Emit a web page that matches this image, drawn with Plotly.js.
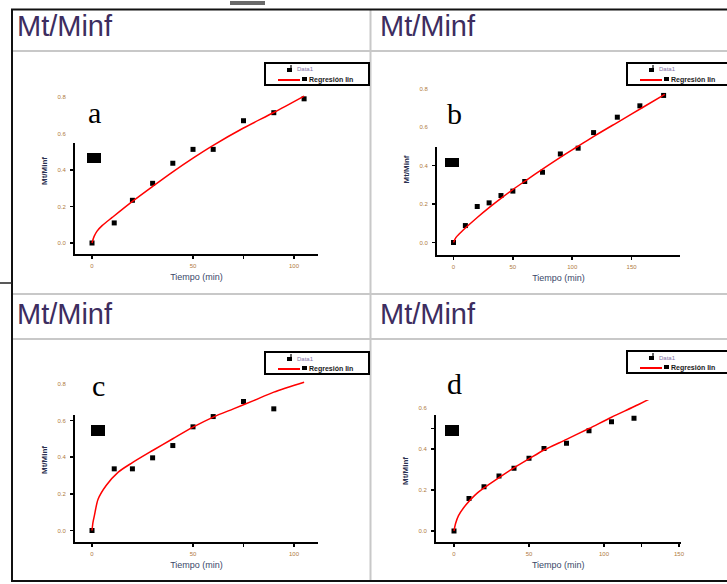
<!DOCTYPE html>
<html>
<head>
<meta charset="utf-8">
<script src="https://cdn.plot.ly/plotly-3.0.1.min.js"></script>
<style>html,body{margin:0;padding:0;background:#fff;}#chart{width:727px;height:584px;}</style>
</head>
<body>
<div id="chart"></div>
<script>
// ---- data ----
const panelLetters = ['a', 'b', 'c', 'd'];
const headerText = 'Mt/Minf';
const xTitle = 'Tiempo (min)';
const yTitle = 'Mt/Minf';
const legendData = 'Data1';
const legendFit = 'Regresión lin';

// panel a
const tA = [0, 11, 20, 30, 40, 50, 60, 75, 90, 105];
const vA = [0, 0.11, 0.234, 0.327, 0.437, 0.513, 0.513, 0.67, 0.714, 0.79];
const fitTA = [0, 1, 2.5, 5, 10, 20, 30, 40, 50, 60, 75, 90, 105];
const fitVA = [0, 0.035, 0.065, 0.095, 0.14, 0.228, 0.31, 0.39, 0.465, 0.535, 0.63, 0.715, 0.805];

// panel b
const tB = [0, 10, 20, 30, 40, 50, 60, 75, 90, 105, 118, 138, 157, 177];
const vB = [0, 0.088, 0.187, 0.206, 0.244, 0.267, 0.317, 0.365, 0.46, 0.49, 0.571, 0.651, 0.71, 0.764];
const fitTB = [0, 2, 5, 10, 20, 30, 40, 50, 60, 75, 90, 105, 120, 140, 160, 178];
const fitVB = [0, 0.025, 0.045, 0.075, 0.13, 0.181, 0.229, 0.275, 0.318, 0.381, 0.442, 0.5, 0.558, 0.631, 0.704, 0.77];

// panel c
const tC = [0, 11, 20, 30, 40, 50, 60, 75, 90];
const vC = [0, 0.336, 0.336, 0.396, 0.463, 0.565, 0.621, 0.703, 0.663];
const fitTC = [0, 0.5, 1.2, 3, 7, 13, 20, 30, 40, 50, 60, 70, 80, 90, 105];
const fitVC = [0, 0.045, 0.082, 0.17, 0.245, 0.318, 0.37, 0.436, 0.5, 0.563, 0.618, 0.663, 0.708, 0.754, 0.808];

// panel d
const tD = [0, 10, 20, 30, 40, 50, 60, 75, 90, 105, 120];
const vD = [0, 0.159, 0.216, 0.268, 0.306, 0.355, 0.403, 0.428, 0.489, 0.533, 0.55];
const fitTD = [0, 1, 3, 8, 14, 20, 30, 40, 50, 60, 75, 90, 105, 123, 140];
const fitVD = [0, 0.035, 0.075, 0.128, 0.175, 0.21, 0.26, 0.308, 0.352, 0.395, 0.447, 0.5, 0.555, 0.617, 0.68];

// tick labels
const xTickValsAC = [0, 50, 75, 100];
const xTickTextAC = ['0', '50', '', '100'];
const xTickValsB = [0, 50, 100, 150];
const xTickTextB = ['0', '50', '100', '150'];
const xTickValsD = [0, 50, 100, 125, 150];
const xTickTextD = ['0', '50', '100', '', '150'];
const yTickValsABC = [0, 0.2, 0.4, 0.6, 0.8];
const yTickTextABC = ['0.0', '0.2', '0.4', '0.6', '0.8'];
const yTickValsD = [0, 0.2, 0.4, 0.5, 0.6];
const yTickTextD = ['0.0', '0.2', '0.4', '', '0.6'];

// ---- layout helpers ----
const W = 727, H = 584;
const px = x => x / W;
const py = y => 1 - y / H;

const tickFont = {family: 'Liberation Sans, Arial, sans-serif', size: 6, color: '#b07a40'};
const xTitleFont = {family: 'Liberation Sans, Arial, sans-serif', size: 9, color: '#3a4868'};
const yTitleFont = {family: 'Liberation Sans, Arial, sans-serif', size: 8, color: '#2a3050', weight: 'bold'};

function xAxis(l, r, range, vals, text, anchor) {
  return {
    domain: [px(l), px(r)], range: range, anchor: anchor,
    tickmode: 'array', tickvals: vals, ticktext: text,
    showline: true, linecolor: '#000', linewidth: 2,
    ticks: 'outside', ticklen: 3, tickwidth: 1.5, tickcolor: '#000',
    showgrid: false, zeroline: false, tickfont: tickFont, ticklabelstandoff: 2,
    title: {text: xTitle, font: xTitleFont, standoff: 5}, fixedrange: true
  };
}
function yAxis(b, t, range, vals, text, anchor) {
  return {
    domain: [py(b), py(t)], range: range, anchor: anchor,
    tickmode: 'array', tickvals: vals, ticktext: text,
    showline: true, linecolor: '#000', linewidth: 2,
    ticks: 'outside', ticklen: 3, tickwidth: 1.5, tickcolor: '#000',
    showgrid: false, zeroline: false, tickfont: tickFont, ticklabelstandoff: 3,
    title: {text: yTitle, font: yTitleFont, standoff: 9}, fixedrange: true
  };
}

function pointTrace(t, v, xa, ya) {
  return {x: t, y: v, xaxis: xa, yaxis: ya, type: 'scatter', mode: 'markers', name: legendData,
    marker: {symbol: 'square', size: 5, color: '#000'}, showlegend: false, hoverinfo: 'skip'};
}
function fitTrace(t, v, xa, ya) {
  return {x: t, y: v, xaxis: xa, yaxis: ya, type: 'scatter', mode: 'lines', name: legendFit,
    line: {color: '#ff0000', width: 1.5, shape: 'spline', smoothing: 0.8}, showlegend: false, hoverinfo: 'skip'};
}

const data = [
  pointTrace(tA, vA, 'x', 'y'), fitTrace(fitTA, fitVA, 'x', 'y'),
  pointTrace(tB, vB, 'x2', 'y2'), fitTrace(fitTB, fitVB, 'x2', 'y2'),
  pointTrace(tC, vC, 'x3', 'y3'), fitTrace(fitTC, fitVC, 'x3', 'y3'),
  pointTrace(tD, vD, 'x4', 'y4'), fitTrace(fitTD, fitVD, 'x4', 'y4')
];

// ---- shapes: table frame, masks, legends ----
const shapes = [];
function line(x0, y0, x1, y1, color, width) {
  shapes.push({type: 'line', xref: 'paper', yref: 'paper', x0: px(x0), y0: py(y0), x1: px(x1), y1: py(y1),
    line: {color: color, width: width}, layer: 'above'});
}
function rect(x0, y0, x1, y1, fill, lineColor, lineWidth) {
  shapes.push({type: 'rect', xref: 'paper', yref: 'paper', x0: px(x0), y0: py(y0), x1: px(x1), y1: py(y1),
    fillcolor: fill, line: {color: lineColor || fill, width: lineWidth || 0}, layer: 'above'});
}

// white masks over upper part of y axes
rect(69, 74, 125, 143, '#ffffff');
rect(431, 72, 490, 147, '#ffffff');
rect(69, 372, 125, 415, '#ffffff');
rect(430, 396, 490, 415, '#ffffff');

// black blocks
rect(87, 153, 101, 163, '#000000');
rect(445, 158, 459, 167, '#000000');
rect(91, 425, 105, 436, '#000000');
rect(445, 425, 459, 436, '#000000');

// table grid
line(12, 51, 727, 51, '#c8c8c8', 2);
line(12, 294, 727, 294, '#c8c8c8', 2);
line(12, 339, 727, 339, '#c8c8c8', 2);
line(370.5, 10, 370.5, 581, '#c8c8c8', 2);
line(11, 9.5, 727, 9.5, '#111111', 2);
line(12, 9, 12, 582, '#111111', 2);
line(11, 581, 727, 581, '#111111', 2);
line(0, 283, 12, 283, '#222222', 1.5);
rect(230, 1, 265, 5, '#6a6a6a');

// legends
const annotations = [];
function legendBox(L, T) {
  rect(L, T, L + 104, T + 22, 'rgba(255,255,255,1)', '#000000', 2);
  rect(L + 22, T + 5, L + 27, T + 9, '#000000');
  line(L + 26, T + 2, L + 26, T + 6, '#000000', 1.2);
  line(L + 13, T + 17, L + 35, T + 17, '#ff0000', 2);
  rect(L + 37, T + 14, L + 42, T + 18, '#000000');
  annotations.push({xref: 'paper', yref: 'paper', x: px(L + 30), y: py(T + 6.5), xanchor: 'left', yanchor: 'middle',
    text: legendData, showarrow: false, font: {family: 'Liberation Sans, Arial, sans-serif', size: 6, color: '#8272a8'}});
  annotations.push({xref: 'paper', yref: 'paper', x: px(L + 42), y: py(T + 17), xanchor: 'left', yanchor: 'middle',
    text: legendFit, showarrow: false, font: {family: 'Liberation Sans, Arial, sans-serif', size: 7, color: '#1a1a1a', weight: 'bold'}});
}
legendBox(265, 63);
legendBox(627, 63);
legendBox(265, 352);
legendBox(627, 351);

// headers
[[15, 26], [378, 26], [15, 314], [378, 314]].forEach(p => {
  annotations.push({xref: 'paper', yref: 'paper', x: px(p[0]), y: py(p[1]), xanchor: 'left', yanchor: 'middle',
    text: headerText, showarrow: false, font: {family: 'Liberation Sans, Arial, sans-serif', size: 29, color: '#3d2d60'}});
});
// panel letters
[[94, 112], [454, 113], [98, 385], [454, 383]].forEach((p, i) => {
  annotations.push({xref: 'paper', yref: 'paper', x: px(p[0]), y: py(p[1]), xanchor: 'center', yanchor: 'middle',
    text: panelLetters[i], showarrow: false, font: {family: 'Liberation Serif, Times New Roman, serif', size: 30, color: '#000'}});
});

const layout = {
  width: W, height: H, autosize: false,
  margin: {l: 0, r: 0, t: 0, b: 0, pad: 0},
  paper_bgcolor: '#ffffff', plot_bgcolor: 'rgba(0,0,0,0)',
  showlegend: false,
  xaxis: xAxis(75, 318, [-8.42, 111.88], xTickValsAC, xTickTextAC, 'y'),
  yaxis: yAxis(254, 88, [-0.0603, 0.8493], yTickValsABC, yTickTextABC, 'x'),
  xaxis2: xAxis(437, 680, [-13.9, 190.8], xTickValsB, xTickTextB, 'y2'),
  yaxis2: yAxis(255, 84, [-0.0649, 0.8234], yTickValsABC, yTickTextABC, 'x2'),
  xaxis3: xAxis(75, 318, [-8.42, 111.88], xTickValsAC, xTickTextAC, 'y3'),
  yaxis3: yAxis(542, 378, [-0.0627, 0.8311], yTickValsABC, yTickTextABC, 'x3'),
  xaxis4: xAxis(436, 680.5, [-12, 151], xTickValsD, xTickTextD, 'y4'),
  yaxis4: yAxis(542, 400, [-0.0537, 0.639], yTickValsD, yTickTextD, 'x4'),
  shapes: shapes,
  annotations: annotations
};

Plotly.newPlot('chart', data, layout, {displayModeBar: false, staticPlot: true});
</script>
</body>
</html>
